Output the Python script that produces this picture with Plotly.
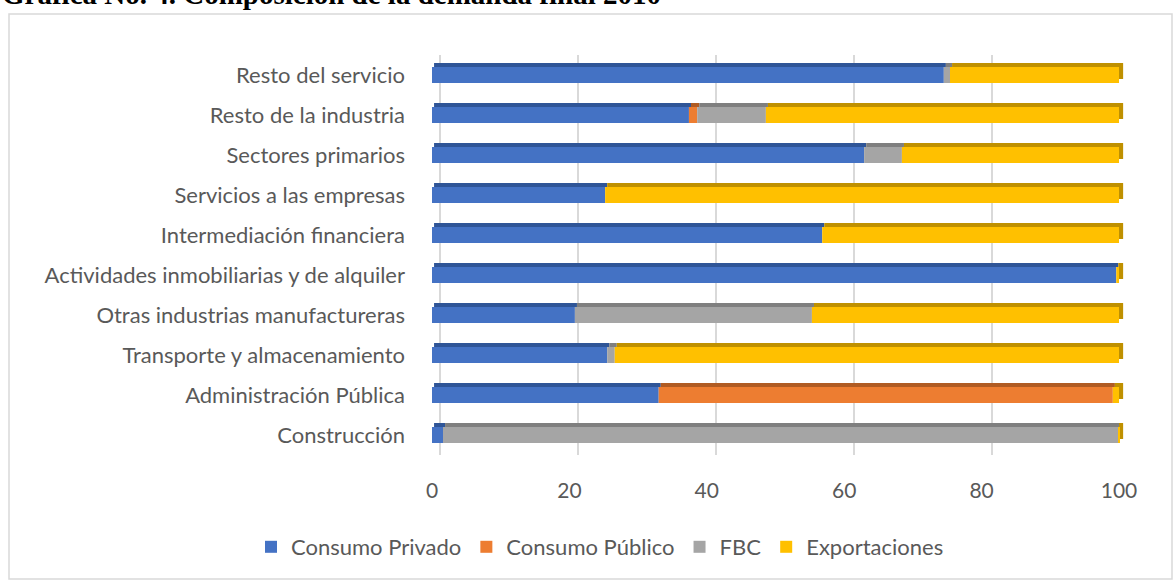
import numpy as np
import plotly.graph_objects as go

categories = [
    "Resto del servicio",
    "Resto de la industria",
    "Sectores primarios",
    "Servicios a las empresas",
    "Intermediación financiera",
    "Actividades inmobiliarias y de alquiler",
    "Otras industrias manufactureras",
    "Transporte y almacenamiento",
    "Administración Pública",
    "Construcción",
]
consumo_privado = [74.5, 37.4, 62.9, 25.2, 56.8, 99.6, 20.8, 25.5, 33.0, 1.6]
consumo_publico = [0.0, 1.2, 0.0, 0.0, 0.0, 0.0, 0.0, 0.0, 66.1, 0.0]
fbc = [0.9, 10.0, 5.5, 0.0, 0.0, 0.0, 34.5, 1.1, 0.0, 98.3]
exportaciones = [24.6, 51.4, 31.6, 74.8, 43.2, 0.4, 44.7, 73.4, 0.9, 0.1]
series_names = ["Consumo Privado", "Consumo Público", "FBC", "Exportaciones"]
tick_values = [0, 20, 40, 60, 80, 100]
title_text = "Gráfica No. 4. Composición de la demanda final 2010"

face_colors = ["#4472C4", "#ED7D31", "#A5A5A5", "#FFC000"]
top_colors = ["#2F5597", "#B05B22", "#7F7F7F", "#BF9000"]
FONT = "Lato"
TXT = "#595959"

series = [np.array(s) for s in (consumo_privado, consumo_publico, fbc, exportaciones)]
bases = [np.zeros(len(categories))]
for s in series[:-1]:
    bases.append(bases[-1] + s)
totals = bases[-1] + series[-1]

fig = go.Figure()
# invisible helper so the back-wall grid axis is drawn
fig.add_trace(go.Scatter(x=tick_values, y=[categories[0]] * len(tick_values),
                         xaxis="x2", mode="markers", marker=dict(opacity=0),
                         showlegend=False, hoverinfo="skip"))
# top (depth) faces of the 3D bars
skew = 0.3
for vals, base, col in zip(series, bases, top_colors):
    fig.add_trace(go.Bar(
        y=categories, x=vals, base=base + skew, orientation="h",
        width=0.1, offset=0.2, marker=dict(color=col, line=dict(width=0)),
        showlegend=False, hoverinfo="skip",
    ))
# end caps
fig.add_trace(go.Bar(
    y=categories, x=[0.6] * len(categories), base=totals, orientation="h",
    width=0.4, offset=-0.1, marker=dict(color=top_colors[-1], line=dict(width=0)),
    showlegend=False, hoverinfo="skip",
))
# front faces
for name, vals, base, col in zip(series_names, series, bases, face_colors):
    fig.add_trace(go.Bar(
        y=categories, x=vals, base=base, orientation="h", name=name,
        width=0.4, offset=-0.2, marker=dict(color=col, line=dict(width=0)),
    ))

W, H = 1174, 581
L, R, T, B = 432, 44, 55, 126
pw, ph = W - L - R, H - T - B

def px(x):
    return (x - L) / pw

def py(y):
    return (H - B - y) / ph

fig.update_layout(
    width=W, height=H,
    margin=dict(l=L, r=R, t=T, b=B, autoexpand=False),
    paper_bgcolor="white", plot_bgcolor="white",
    barmode="overlay",
    font=dict(family=FONT, size=22, color=TXT),
    xaxis=dict(range=[0, 101.6], tickvals=tick_values, showgrid=False,
               zeroline=False, showline=False, ticks="",
               tickfont=dict(family=FONT, size=21, color=TXT),
               ticklabelstandoff=21),
    xaxis2=dict(overlaying="x", range=[-1.16, 100], tickvals=tick_values,
                showgrid=True, gridcolor="#D9D9D9", gridwidth=2,
                showticklabels=False, zeroline=False, showline=False,
                side="bottom", ticks=""),
    yaxis=dict(categoryorder="array", categoryarray=categories[::-1],
               range=[-0.5, len(categories) - 0.5],
               showgrid=False, zeroline=False, showline=False, ticks="",
               tickfont=dict(family=FONT, size=22, color=TXT),
               ticklabelstandoff=26),
    legend=dict(orientation="h", x=px(600), xanchor="center",
                y=py(547), yanchor="middle",
                font=dict(family=FONT, size=22, color=TXT),
                traceorder="normal"),
    shapes=[dict(type="rect", xref="paper", yref="paper",
                 x0=px(9), x1=px(1172), y0=py(579), y1=py(14),
                 line=dict(color="#D9D9D9", width=1.5), layer="below")],
    annotations=[dict(text="<b>" + title_text + "</b>", xref="paper", yref="paper",
                      x=px(0), y=py(12), xanchor="left", yanchor="bottom",
                      showarrow=False,
                      font=dict(family="Liberation Serif", size=29, color="black"))],
)

fig.write_html("out.html", config={"displayModeBar": False},
               post_script="document.body.style.margin='0';")
